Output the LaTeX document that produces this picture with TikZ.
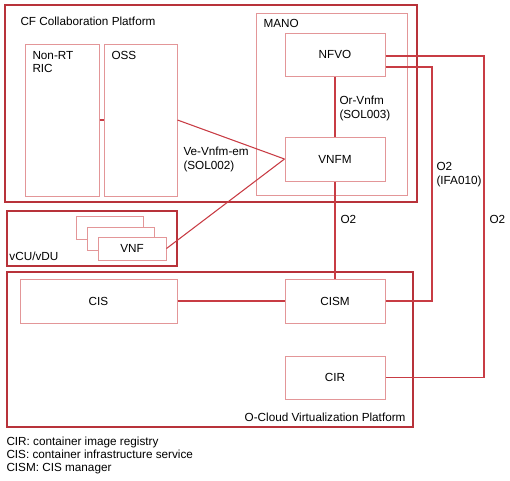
\documentclass[tikz,border=0pt]{standalone}
\usepackage{fontspec}
\setmainfont{Liberation Sans}
\usetikzlibrary{fit}
\definecolor{framered}{RGB}{184,50,58}
\definecolor{blockpink}{RGB}{227,150,152}
\definecolor{linkred}{RGB}{200,60,68}

\tikzset{every picture/.style={line width=0.75pt}}

\begin{document}
\begin{tikzpicture}[x=0.75pt,y=0.75pt,yscale=-1,xscale=1,
  font=\fontsize{8.8}{10}\selectfont,
  frame/.style={draw=framered, line width=1.2pt, inner sep=0pt},
  block/.style={draw=blockpink, fill=white, inner sep=0pt},
  link/.style={color=linkred, line width=0.8pt},
  lbl/.style={inner sep=0pt, anchor=north west, align=left}]
\useasboundingbox (0,0) rectangle (510,480);

%Shape: Frames
\node (cf) [frame, fit={(5,5) (417,202)}] {};
\node (ran) [frame, fit={(7,211) (177,266)}] {};
\node (ocloud) [frame, fit={(7,272) (413,427)}] {};
\node (mano) [block, fill=none, fit={(256,13) (407,195)}] {};

%Shape: Blocks
\node (ric) [block, fit={(25,44) (99,196)}] {};
\node (oss) [block, fit={(104,44) (177,196)}] {};
\node (nfvo) [block, fit={(285,33) (385,76)}, label=center:NFVO] {};
\node (vnfm) [block, fit={(285,137) (385,181)}, label=center:VNFM] {};
\node (vnfc) [block, fit={(76,216) (143,239)}] {};
\node (vnfb) [block, fit={(87,227) (154,250)}] {};
\node (vnf) [block, fit={(98,237) (166,260)}, label=center:VNF] {};
\node (cis) [block, fit={(20,279) (177,323)}, label=center:CIS] {};
\node (cism) [block, fit={(285,279) (385,323)}, label=center:CISM] {};
\node (cir) [block, fit={(285,356) (385,399)}, label=center:CIR] {};

%Straight Lines
\draw [link] (ric.east) -- (oss.west) ;
\draw [link] (oss.east) -- (vnfm.west) ;
\draw [link] (vnf.east) -- (vnfm.west) ;
\draw [link] (nfvo.south) -- (vnfm.north) ;
\draw [link] (vnfm.south) -- (cism.north) ;
\draw [link] (cis.east) -- (cism.west) ;
\coordinate (o2a) at (432,67);
\coordinate (o2b) at (484,56);
\draw [link] (nfvo.east |- o2a) -- (o2a) |- (cism.east) ;
\draw [link] (nfvo.east |- o2b) -- (o2b) |- (cir.east) ;

% Text Node
\node (cflbl) [lbl] at (20,16) {CF Collaboration Platform};
\node (manolbl) [lbl] at (263,19) {MANO};
\node (riclbl) [lbl] at (32,51) {Non-RT\\RIC};
\node (osslbl) [lbl] at (111,51) {OSS};
\node (ranlbl) [lbl] at (9,251) {vCU/vDU};
\node (ocloudlbl) [lbl, anchor=north east] at (406,412) {O-Cloud Virtualization Platform};
\node (vevnfm) [lbl] at (183,147) {Ve-Vnfm-em\\(SOL002)};
\node (orvnfm) [lbl] at (339,96) {Or-Vnfm\\(SOL003)};
\node (o2ifa) [lbl] at (436,162) {O2\\(IFA010)};
\node (o2cir) [lbl] at (489,215) {O2};
\node (o2cism) [lbl] at (340,215) {O2};
\node (legend) [lbl] at (6,436) {CIR: container image registry\\CIS: container infrastructure service\\CISM: CIS manager};

\end{tikzpicture}
\end{document}
